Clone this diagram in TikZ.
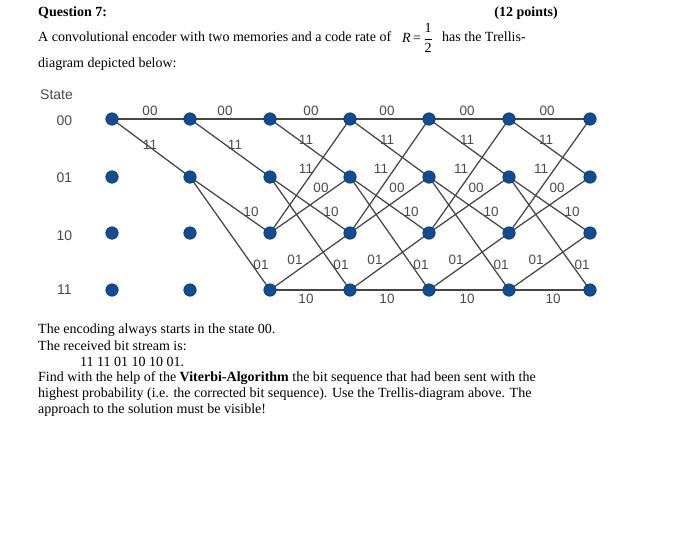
\documentclass[tikz,border=0pt]{standalone}
\usepackage{amsmath,amssymb}
\usepackage{xcolor}
\usepackage{fontspec}
\setmainfont{Liberation Serif}
\setsansfont{Liberation Sans}
\usepackage{tikz}
\usetikzlibrary{positioning}
\definecolor{statefill}{HTML}{0F4C92}
\definecolor{stateedge}{HTML}{123A66}
\definecolor{wire}{HTML}{454545}
\definecolor{lbltext}{HTML}{4A4A4A}

\begin{document}
\begin{tikzpicture}[x=1pt,y=-1pt]
  \tikzstyle{state}=[circle,draw=stateedge,fill=statefill,line width=0.6pt,inner sep=0pt,minimum size=12.5pt]
  \tikzstyle{edge}=[wire,line width=1.25pt]
  \tikzstyle{lbl}=[font=\sffamily\fontsize{13.5}{15}\selectfont,text=lbltext,inner sep=0pt]
  \tikzstyle{txt}=[font=\fontsize{14}{16}\selectfont,text=black,anchor=west,inner sep=0pt]
  \useasboundingbox (0,0) rectangle (700,544);
  % page text
  \node[txt,font=\bfseries\fontsize{14}{16}\selectfont] (qhead) at (38,13) {Question 7:};
  \node[txt,font=\bfseries\fontsize{14}{16}\selectfont,anchor=east] (qpts) at (558,13) {(12 points)};
  \node[txt] (line1a) at (38,37) {A convolutional encoder with two memories and a code rate of};
  \node[txt] (line1b) at (402,38) {\textit{R}\,=\,$\dfrac{\text{1}}{\text{2}}$};
  \node[txt] (line1c) at (442,37) {has the Trellis-};
  \node[txt] (line2) at (38,64) {diagram depicted below:};
  % state column
  \node[txt,font=\sffamily\fontsize{14}{16}\selectfont,text=lbltext] (statehead) at (40,95) {State};
  \foreach \r/\ry/\s in {0/121/00,1/178/01,2/236/10,3/290/11}
    \node[lbl,font=\sffamily\fontsize{14}{16}\selectfont] (name\r) at (64.5,\ry) {\s};
  % edges first, dots on top
  \foreach \c/\cx in {0/112,1/190,2/270,3/350,4/429,5/509,6/590}
    \foreach \r/\ry in {0/119,1/177,2/233,3/290}
      \coordinate (p\c\r) at (\cx,\ry);
  \draw[edge] (p00) -- (p10);
  \draw[edge] (p00) -- (p11);
  \draw[edge] (p10) -- (p20);
  \draw[edge] (p10) -- (p21);
  \draw[edge] (p11) -- (p22);
  \draw[edge] (p11) -- (p23);
  \foreach \a/\b in {2/3,3/4,4/5,5/6}
    \foreach \u/\v in {0/0,0/1,1/2,1/3,2/0,2/1,3/2,3/3}
      \draw[edge] (p\a\u) -- (p\b\v);
  \foreach \c in {0,...,6}
    \foreach \r in {0,...,3}
      \node[state] (s\c\r) at (p\c\r) {};
  % branch labels
  \foreach \i/\x in {1/150,2/225,3/311,4/387,5/467,6/547}
    \node[lbl] (top\i) at (\x,111) {00};
  \foreach \i/\x/\y in {1/150/145,2/235/145,3/306/140,4/387/140,5/467/140,6/546/140}
    \node[lbl] (down\i) at (\x,\y) {11};
  \foreach \i/\x in {1/306,2/381,3/461,4/541}
    \node[lbl] (up\i) at (\x,169) {11};
  \foreach \i/\x in {1/321,2/397,3/476,4/557}
    \node[lbl] (mid\i) at (\x,188) {00};
  \foreach \i/\x in {1/251,2/331,3/411,4/491,5/572}
    \node[lbl] (cross\i) at (\x,212) {10};
  \foreach \i/\x in {1/261,2/341,3/421,4/501,5/582}
    \node[lbl] (steep\i) at (\x,265) {01};
  \foreach \i/\x in {1/295,2/375,3/456,4/536}
    \node[lbl] (rise\i) at (\x,260) {01};
  \foreach \i/\x in {1/306,2/387,3/467,4/553}
    \node[lbl] (bot\i) at (\x,299) {10};
  % text below
  \node[txt] (foot1) at (38,330) {The encoding always starts in the state 00.};
  \node[txt] (foot2) at (38,346) {The received bit stream is:};
  \node[txt] (foot3) at (80,362) {11 11 01 10 10 01.};
  \node[txt] (foot4) at (38,378) {Find with the help of the \textbf{Viterbi-Algorithm} the bit sequence that had been sent with the};
  \node[txt] (foot5) at (38,394) {highest probability (i.e. the corrected bit sequence). Use the Trellis-diagram above. The};
  \node[txt] (foot6) at (38,410) {approach to the solution must be visible!};
\end{tikzpicture}
\end{document}
